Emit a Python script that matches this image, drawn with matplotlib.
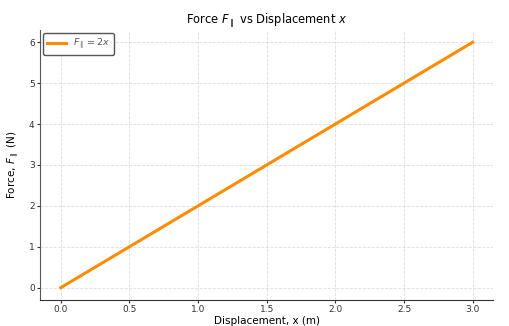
import numpy as np
import matplotlib.pyplot as plt

# data
x = [0.0, 0.5, 1.0, 1.5, 2.0, 2.5, 3.0]
force = [0.0, 1.0, 2.0, 3.0, 4.0, 5.0, 6.0]

fig = plt.figure(figsize=(5.09, 3.26), dpi=100)
ax = fig.add_axes([0.079, 0.08, 0.89, 0.828])

ax.plot(x, force, color='#ff8c00', linewidth=2.2, label=r'$F_{\parallel} = 2x$')

ax.set_xlim(-0.15, 3.15)
ax.set_ylim(-0.3, 6.3)
ax.set_xticks([0.0, 0.5, 1.0, 1.5, 2.0, 2.5, 3.0])
ax.set_yticks([0, 1, 2, 3, 4, 5, 6])

ax.grid(True, linestyle='--', color='#dddddd', linewidth=0.6)
ax.spines['top'].set_visible(False)
ax.spines['right'].set_visible(False)
ax.spines['left'].set_color('#555555')
ax.spines['bottom'].set_color('#333333')
ax.tick_params(labelsize=6.5, length=2.5, width=0.8, pad=1.5, colors='#333333')

ax.set_xlabel('Displacement, x (m)', fontsize=7.5, labelpad=1)
ax.set_ylabel(r'Force, $F_{\parallel}$ (N)', fontsize=7.5, labelpad=5)
ax.set_title(r'Force $F_{\parallel}$ vs Displacement $x$', fontsize=8.3, pad=5)

leg = ax.legend(loc='upper left', fontsize=6.8, frameon=True, fancybox=True,
                borderaxespad=0.3, handlelength=2.0, labelcolor='#555555')
leg.get_frame().set_edgecolor('#555555')
leg.get_frame().set_alpha(1.0)

fig.savefig('out.png', dpi=100)
